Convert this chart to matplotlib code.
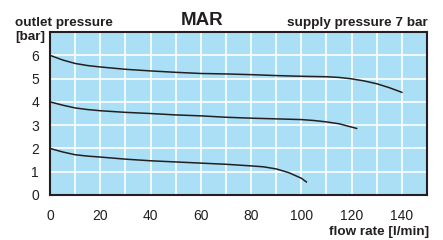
import matplotlib
matplotlib.use('Agg')
import matplotlib.pyplot as plt

'''Curve data read from the chart (flow rate in l/min, outlet pressure in bar)'''
flow_6 = [0, 5, 10, 15, 20, 30, 40, 50, 60, 70, 80, 90, 100, 110, 115, 120, 125, 130, 135, 140]
pres_6 = [6.0, 5.8, 5.65, 5.56, 5.5, 5.4, 5.33, 5.27, 5.22, 5.2, 5.17, 5.13, 5.1, 5.08, 5.05, 4.99, 4.9, 4.78, 4.61, 4.41]

flow_4 = [0, 5, 10, 15, 20, 30, 40, 50, 60, 70, 80, 90, 100, 105, 110, 115, 122]
pres_4 = [4.0, 3.86, 3.74, 3.67, 3.62, 3.55, 3.5, 3.44, 3.4, 3.34, 3.3, 3.27, 3.24, 3.2, 3.14, 3.06, 2.86]

flow_2 = [0, 5, 10, 15, 20, 30, 40, 50, 60, 70, 80, 85, 90, 95, 100, 102]
pres_2 = [2.0, 1.85, 1.73, 1.67, 1.63, 1.54, 1.47, 1.42, 1.37, 1.32, 1.25, 1.21, 1.12, 0.96, 0.72, 0.56]

x_ticks = [0, 20, 40, 60, 80, 100, 120, 140]
y_ticks = [0, 1, 2, 3, 4, 5, 6]

plt.rcParams['font.family'] = ['Liberation Sans', 'DejaVu Sans']

fig = plt.figure(figsize=(4.43, 2.4), dpi=100)
ax = fig.add_axes([0.1129, 0.1875, 0.851, 0.679])
ax.set_facecolor('#aadff6')

for fx, py in [(flow_6, pres_6), (flow_4, pres_4), (flow_2, pres_2)]:
    ax.plot(fx, py, color='#231f20', lw=1.1, zorder=3)

ax.set_xlim(0, 150)
ax.set_ylim(0, 7)
ax.set_xticks(range(0, 151, 10))
ax.set_xticklabels([str(v) if v in x_ticks else '' for v in range(0, 151, 10)])
ax.set_yticks(range(0, 8))
ax.set_yticklabels([str(v) if v in y_ticks else '' for v in range(0, 8)])
ax.grid(True, color='white', lw=1.2, zorder=1)
ax.set_axisbelow(True)
ax.tick_params(length=0, labelsize=10, colors='#231f20')
ax.tick_params(axis='x', pad=10)
ax.tick_params(axis='y', pad=8)
for s in ax.spines.values():
    s.set_color('#231f20')
    s.set_linewidth(1.5)

fig.text(0.034, 0.905, 'outlet pressure', fontsize=9.7, fontweight='bold', color='#231f20', va='center')
fig.text(0.034, 0.845, '[bar]', fontsize=9.7, fontweight='bold', color='#231f20', va='center')
fig.text(0.455, 0.915, 'MAR', fontsize=13.5, fontweight='bold', color='#231f20', va='center', ha='center')
fig.text(0.966, 0.905, 'supply pressure 7 bar', fontsize=9.7, fontweight='bold', color='#231f20', va='center', ha='right')
fig.text(0.968, 0.033, 'flow rate [l/min]', fontsize=9.7, fontweight='bold', color='#231f20', va='center', ha='right')

fig.savefig('out.png', dpi=100)
plt.close()
